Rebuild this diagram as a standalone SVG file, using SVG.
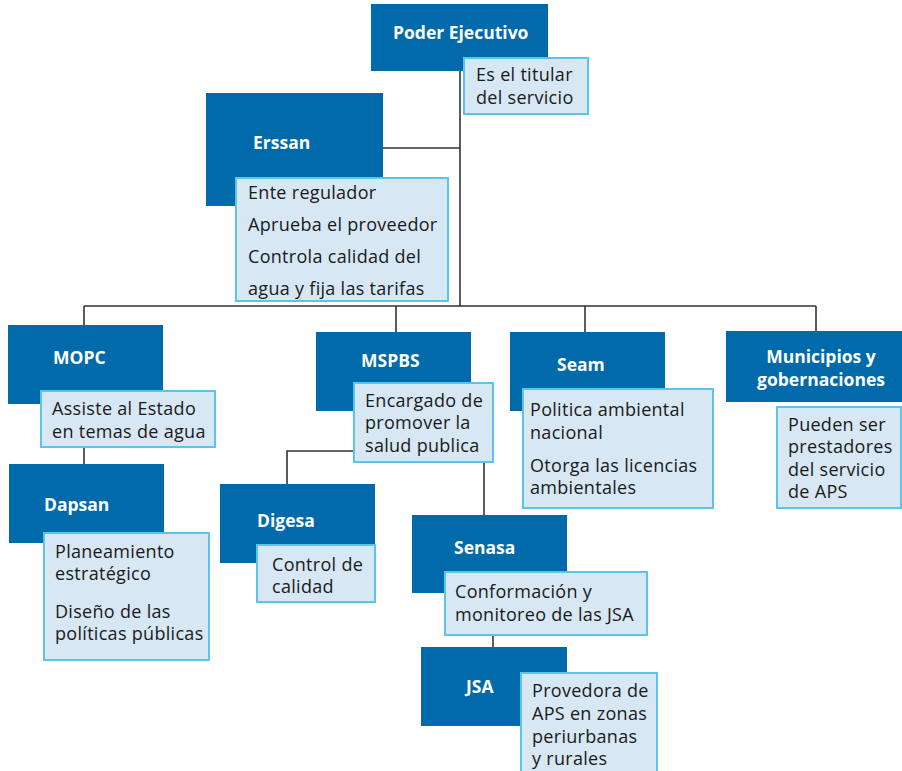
<svg xmlns="http://www.w3.org/2000/svg" width="902" height="771" viewBox="0 0 902 771">
<style>
.box{fill:#006aaa}
.note{fill:#d7e7f3;stroke:#5bc4e8;stroke-width:2}
.t{font-family:"Open Sans","Noto Sans",sans-serif;font-weight:bold;font-size:17.5px;fill:#ffffff}
.n{font-family:"Open Sans","Noto Sans",sans-serif;font-size:18px;letter-spacing:0.3px;fill:#1a1a1a}
.c{fill:none;stroke:#333333;stroke-width:1.6}
</style>
<rect width="902" height="771" fill="#ffffff"/>
<g id="connectors">
<path class="c" d="M460,70 V306"/>
<path class="c" d="M383,148 H460"/>
<path class="c" d="M84,306 H816"/>
<path class="c" d="M84,306 V325"/>
<path class="c" d="M396,306 V332"/>
<path class="c" d="M585,306 V332"/>
<path class="c" d="M816,306 V331"/>
<path class="c" d="M84,447 V464"/>
<path class="c" d="M354,451 H287 V484"/>
<path class="c" d="M484,462 V515"/>
<path class="c" d="M493,635 V647"/>
</g>
<g id="poder">
<rect class="box" x="371" y="4" width="177" height="67"/>
<text class="t" x="393" y="39">Poder Ejecutivo</text>
<rect class="note" x="464" y="58" width="124" height="56"/>
<text class="n" x="476" y="81">Es el titular</text>
<text class="n" x="476" y="104">del servicio</text>
</g>
<g id="erssan">
<rect class="box" x="206" y="93" width="177" height="113"/>
<text class="t" x="253" y="149">Erssan</text>
<rect class="note" x="236" y="178" width="212" height="123"/>
<text class="n" x="248" y="199">Ente regulador</text>
<text class="n" x="248" y="231">Aprueba el proveedor</text>
<text class="n" x="248" y="263">Controla calidad del</text>
<text class="n" x="248" y="295">agua y fija las tarifas</text>
</g>
<g id="mopc">
<rect class="box" x="8" y="325" width="155" height="79"/>
<text class="t" x="53" y="364">MOPC</text>
<rect class="note" x="41" y="391" width="174" height="56"/>
<text class="n" x="52" y="415">Assiste al Estado</text>
<text class="n" x="52" y="438">en temas de agua</text>
</g>
<g id="dapsan">
<rect class="box" x="9" y="464" width="155" height="79"/>
<text class="t" x="44" y="511">Dapsan</text>
<rect class="note" x="44" y="533" width="165" height="127"/>
<text class="n" x="55" y="558">Planeamiento</text>
<text class="n" x="55" y="580">estratégico</text>
<text class="n" x="55" y="618">Diseño de las</text>
<text class="n" x="55" y="640">políticas públicas</text>
</g>
<g id="mspbs">
<rect class="box" x="316" y="332" width="155" height="79"/>
<text class="t" x="361" y="367">MSPBS</text>
<rect class="note" x="354" y="383" width="139" height="79"/>
<text class="n" x="365" y="407">Encargado de</text>
<text class="n" x="365" y="429">promover la</text>
<text class="n" x="365" y="452">salud publica</text>
</g>
<g id="seam">
<rect class="box" x="510" y="332" width="155" height="79"/>
<text class="t" x="557" y="371">Seam</text>
<rect class="note" x="523" y="389" width="190" height="119"/>
<text class="n" x="530" y="416">Politica ambiental</text>
<text class="n" x="530" y="439">nacional</text>
<text class="n" x="530" y="472">Otorga las licencias</text>
<text class="n" x="530" y="494">ambientales</text>
</g>
<g id="municipios">
<rect class="box" x="726" y="331" width="176" height="71"/>
<text class="t" x="821" y="363" text-anchor="middle">Municipios y</text>
<text class="t" x="821" y="386" text-anchor="middle">gobernaciones</text>
<rect class="note" x="777" y="407" width="124" height="101"/>
<text class="n" x="788" y="431">Pueden ser</text>
<text class="n" x="788" y="453">prestadores</text>
<text class="n" x="788" y="476">del servicio</text>
<text class="n" x="788" y="498">de APS</text>
</g>
<g id="digesa">
<rect class="box" x="220" y="484" width="155" height="79"/>
<text class="t" x="257" y="527">Digesa</text>
<rect class="note" x="257" y="545" width="118" height="57"/>
<text class="n" x="272" y="571">Control de</text>
<text class="n" x="272" y="593">calidad</text>
</g>
<g id="senasa">
<rect class="box" x="412" y="515" width="155" height="78"/>
<text class="t" x="454" y="554">Senasa</text>
<rect class="note" x="445" y="572" width="202" height="63"/>
<text class="n" x="455" y="598">Conformación y</text>
<text class="n" x="455" y="621">monitoreo de las JSA</text>
</g>
<g id="jsa">
<rect class="box" x="421" y="647" width="146" height="79"/>
<text class="t" x="466" y="693">JSA</text>
<rect class="note" x="521" y="673" width="136" height="100"/>
<text class="n" x="532" y="697">Provedora de</text>
<text class="n" x="532" y="720">APS en zonas</text>
<text class="n" x="532" y="743">periurbanas</text>
<text class="n" x="532" y="765">y rurales</text>
</g>
</svg>
